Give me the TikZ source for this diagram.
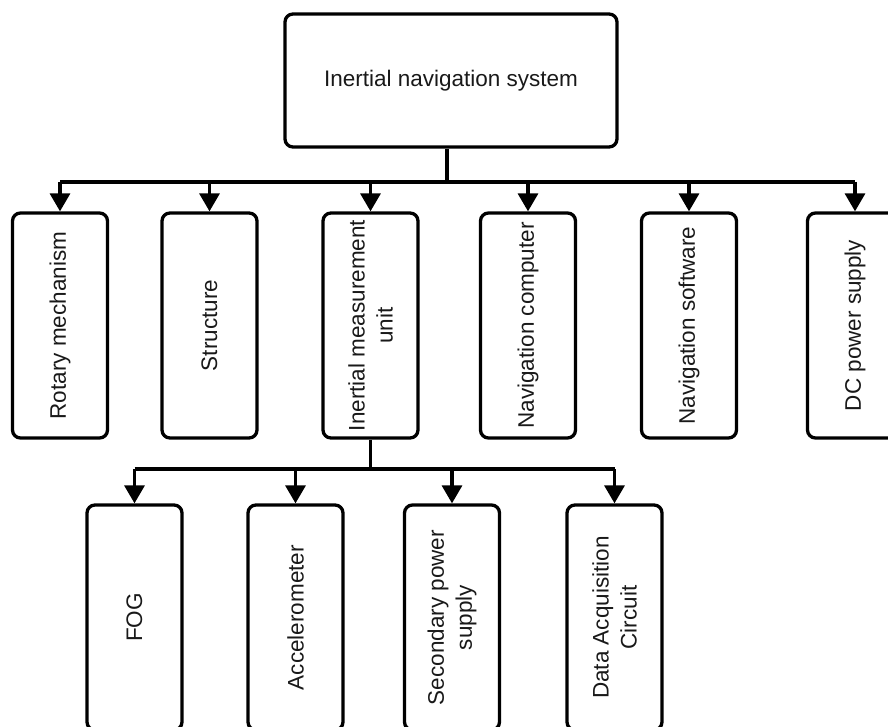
\documentclass[tikz,border=0pt]{standalone}
\usepackage{fontspec}
\setmainfont{Liberation Sans}
\usetikzlibrary{
  arrows.meta,
  positioning,
  calc
}
\definecolor{linecolor}{RGB}{0, 0, 0}
\definecolor{labelcolor}{RGB}{25, 25, 25}
\tikzset{
blocktext/.style={
  align=center,
  font=\fontsize{22.5}{28}\selectfont,
  text=labelcolor
},
topblock/.style={
  draw=linecolor,
  line width=3.3pt,
  rounded corners=8pt,
  minimum width=332pt,
  minimum height=133pt,
  blocktext
},
partblock/.style={
  draw=linecolor,
  line width=3.3pt,
  rounded corners=8pt,
  rotate=90,
  minimum width=225pt,
  minimum height=95pt,
  inner sep=4pt,
  blocktext
},
busline/.style={
  draw=linecolor,
  line width=3.3pt
},
arrow/.style={
  -{Triangle[length=18pt,width=20pt]},
  line width=3.3pt,
  draw=linecolor
}
}

\begin{document}
\begin{tikzpicture}[x=1pt,y=-1pt]
  \useasboundingbox (0,0) rectangle (888,727);
  \node[topblock] (ins) at (451,80.5) {Inertial navigation system};
  % first level
  \node[partblock] (rot) at (60,325.5) {Rotary mechanism};
  \node[partblock] (str) at (209.5,325.5) {Structure};
  \node[partblock] (imu) at (370.5,325.5) {Inertial measurement\\unit};
  \node[partblock] (nc) at (528,325.5) {Navigation computer};
  \node[partblock] (ns) at (689,325.5) {Navigation software};
  \node[partblock] (dc) at (855,325.5) {DC power supply};
  % second level
  \node[partblock] (fog) at (134.5,617.5) {FOG};
  \node[partblock] (acc) at (295.5,617.5) {Accelerometer};
  \node[partblock] (sps) at (452,617.5) {Secondary power\\supply};
  \node[partblock] (daq) at (614.5,617.5) {Data Acquisition\\Circuit};

  \coordinate (bus) at (447,182);
  \coordinate (bus2) at (370.5,469);

  \draw[busline] (bus |- ins.south) -- (bus);
  \draw[busline] (rot.east |- bus) -- (dc.east |- bus);
  \foreach \n in {rot,str,imu,nc,ns,dc}
    \draw[arrow] (\n.east |- bus) -- (\n.east);

  \draw[busline] (imu.west) -- (bus2);
  \draw[busline] (fog.east |- bus2) -- (daq.east |- bus2);
  \foreach \n in {fog,acc,sps,daq}
    \draw[arrow] (\n.east |- bus2) -- (\n.east);
\end{tikzpicture}
\end{document}
